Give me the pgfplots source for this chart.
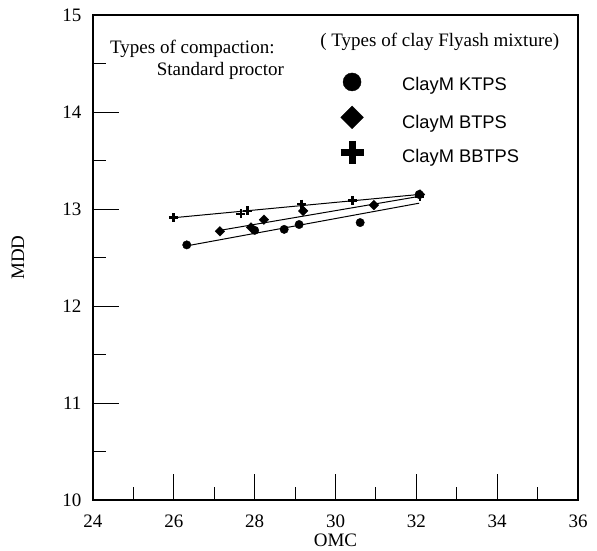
\documentclass[border=0pt]{standalone}
\usepackage{fontspec}
\setmainfont{Liberation Serif}
\newfontfamily\arialfont{Liberation Sans}
\usepackage{pgfplots}
\pgfplotsset{compat=1.18}

\begin{document}
\fontsize{19}{22}\selectfont
\begin{tikzpicture}
\useasboundingbox (-93pt,-50pt) rectangle (504pt,500pt);
\begin{axis}[
  at={(0,0)}, anchor=south west,
  scale only axis, width=485pt, height=485pt,
  xmin=24, xmax=36, ymin=10, ymax=15,
  xtick={24,26,...,36}, ytick={10,11,...,15},
  minor x tick num=1, minor y tick num=1,
  tick pos=left, tick align=inside,
  major tick length=26pt, minor tick length=13pt,
  axis line style={line width=1.2pt},
  every tick/.style={black, line width=0.9pt},
  /pgf/number format/assume math mode=true,
  tick label style={font=\fontsize{19}{22}\selectfont},
  xticklabel style={yshift=-8pt},
  yticklabel style={xshift=-5pt},
  label style={font=\fontsize{19}{22}\selectfont},
  xlabel={OMC}, ylabel={MDD},
  xlabel style={at={(axis description cs:0.5,0)}, anchor=north, yshift=-27pt},
  ylabel style={at={(axis description cs:-0.155,0.5)}, anchor=center},
  clip=false,
]
% fitted trend lines
\addplot[black, line width=1pt] coordinates {(26.32,12.62) (32.07,13.06)};
\addplot[black, line width=1pt] coordinates {(27.14,12.78) (32.07,13.13)};
\addplot[black, line width=1pt] coordinates {(25.99,12.91) (32.07,13.15)};

% ClayM KTPS
\addplot[only marks, black, mark=*, mark size=4.2pt] coordinates {
  (26.32,12.63) (28.00,12.78) (28.73,12.79) (29.10,12.84) (30.61,12.86) (32.07,13.15)};
% ClayM BTPS
\addplot[only marks, black, mark=square*, mark size=3.4pt, mark options={rotate=45}] coordinates {
  (27.14,12.77) (27.91,12.81) (28.23,12.89) (29.20,12.98) (30.95,13.04) (32.09,13.15)};
% ClayM BBTPS
\addplot[only marks, black, mark=+, mark size=4.5pt, mark options={line width=2.6pt}] coordinates {
  (25.99,12.91) (27.66,12.95) (27.82,12.98) (29.16,13.05) (30.42,13.09) (32.09,13.13)};

% key symbols
\addplot[only marks, black, mark=*, mark size=9pt] coordinates {(30.41,14.31)};
\addplot[only marks, black, mark=square*, mark size=8pt, mark options={rotate=45}] coordinates {(30.41,13.945)};
\addplot[only marks, black, mark=+, mark size=11.5pt, mark options={line width=7pt}] coordinates {(30.41,13.585)};

\node[anchor=base west, inner sep=0pt] at (axis cs:24.42,14.605) {Types of compaction:};
\node[anchor=base west, inner sep=0pt] at (axis cs:25.575,14.38) {Standard proctor};
\node[anchor=base west, inner sep=0pt] at (axis cs:29.62,14.68) {( Types of clay Flyash mixture)};
\node[anchor=base west, inner sep=0pt, font=\arialfont\fontsize{18.3}{22}\selectfont] at (axis cs:31.645,14.22) {ClayM KTPS};
\node[anchor=base west, inner sep=0pt, font=\arialfont\fontsize{18.3}{22}\selectfont] at (axis cs:31.645,13.83) {ClayM BTPS};
\node[anchor=base west, inner sep=0pt, font=\arialfont\fontsize{18.3}{22}\selectfont] at (axis cs:31.645,13.48) {ClayM BBTPS};
\end{axis}
\end{tikzpicture}
\end{document}
